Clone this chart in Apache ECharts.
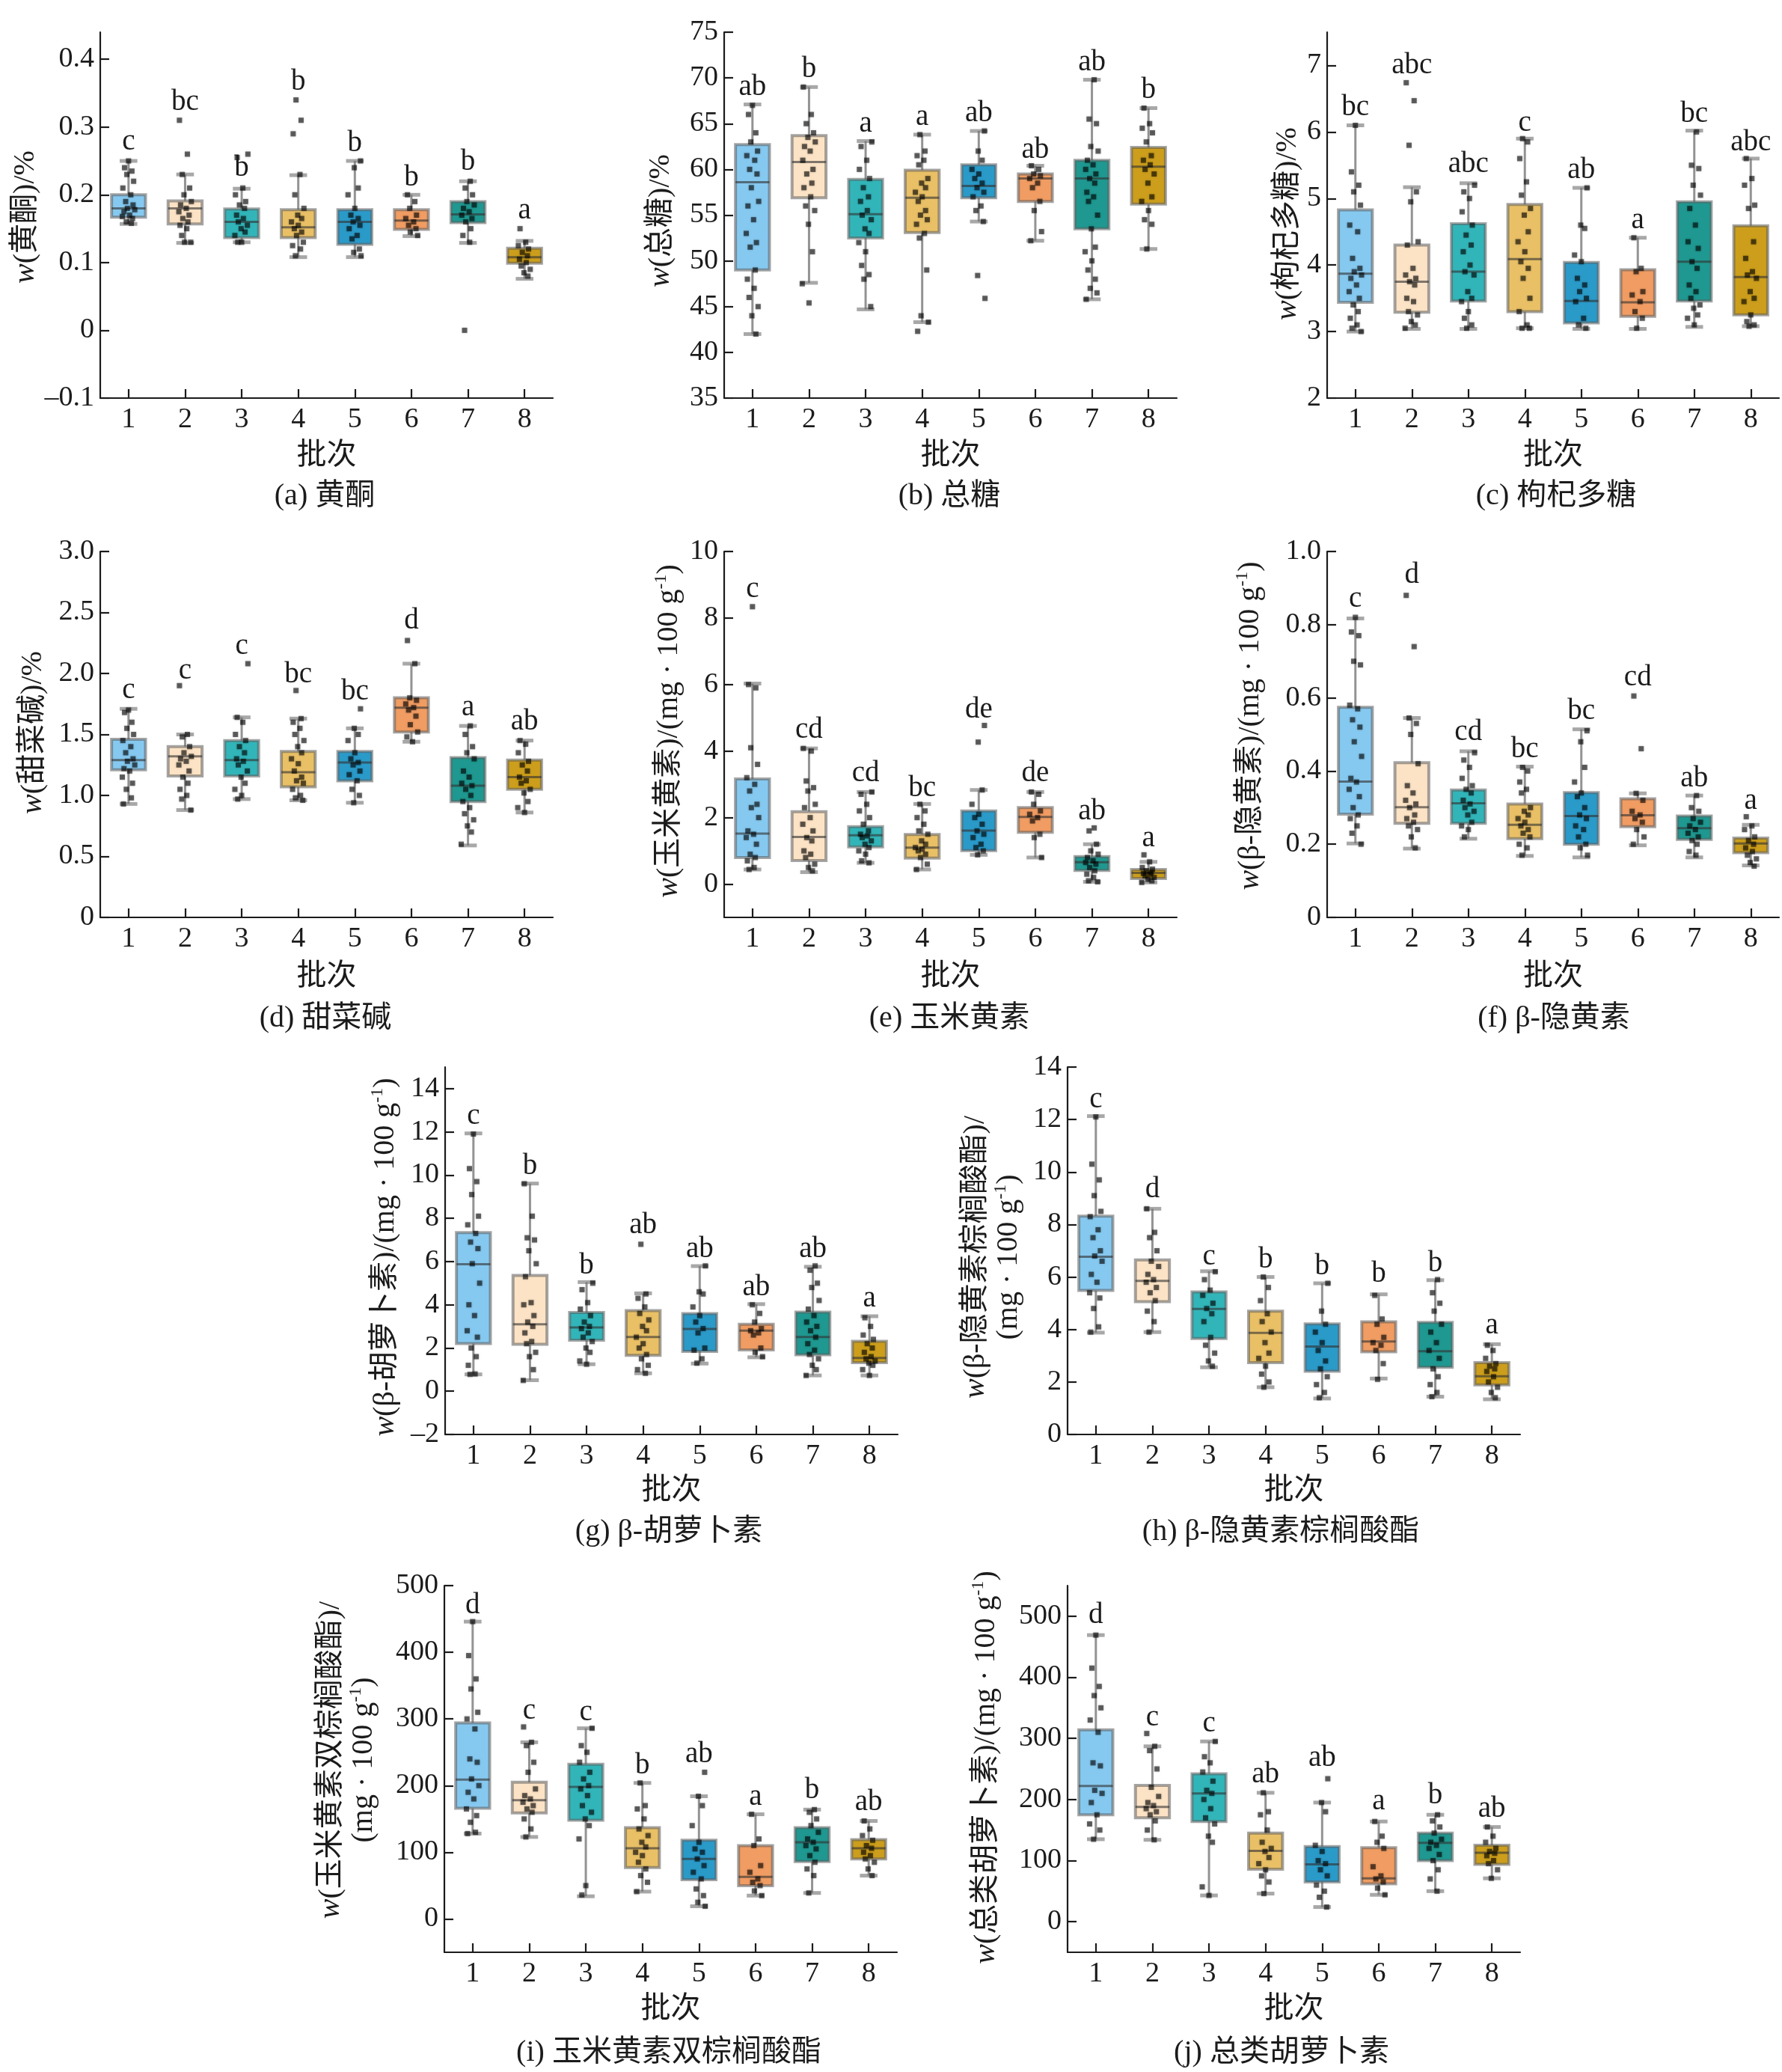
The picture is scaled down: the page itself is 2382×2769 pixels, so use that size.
<!DOCTYPE html>
<html><head><meta charset="utf-8">
<script src="https://cdn.jsdelivr.net/npm/echarts@6/dist/echarts.min.js"></script>
<style>html,body{margin:0;padding:0;background:#fff}#c{width:2382px;height:2769px}</style>
</head><body><div id="c"></div>
<script>
// ---------------- DATA ----------------
const CATS = ['1','2','3','4','5','6','7','8'];
const XNAME = '批次';

// (a) 黄酮
const A_TICKS = [-0.1, 0, 0.1, 0.2, 0.3, 0.4];
const A_BOX = [[0.157,0.167,0.18,0.2,0.25],[0.129,0.157,0.18,0.191,0.23],[0.13,0.137,0.16,0.179,0.209],[0.108,0.137,0.152,0.178,0.229],[0.108,0.127,0.16,0.178,0.25],[0.139,0.149,0.162,0.178,0.2],[0.129,0.159,0.171,0.19,0.22],[0.076,0.099,0.108,0.121,0.132]];
const A_PTS = [
 [0.25,0.24,0.235,0.23,0.22,0.21,0.2,0.19,0.185,0.18,0.178,0.175,0.17,0.168,0.165,0.16,0.158],
 [0.31,0.26,0.23,0.21,0.2,0.19,0.185,0.18,0.175,0.17,0.165,0.16,0.155,0.15,0.14,0.13,0.13],
 [0.26,0.255,0.21,0.2,0.19,0.185,0.18,0.17,0.165,0.16,0.155,0.15,0.145,0.14,0.13,0.13],
 [0.34,0.31,0.29,0.23,0.2,0.18,0.17,0.165,0.16,0.155,0.15,0.145,0.14,0.13,0.125,0.12,0.11],
 [0.25,0.24,0.21,0.2,0.18,0.17,0.165,0.16,0.155,0.15,0.14,0.135,0.12,0.115,0.11],
 [0.2,0.19,0.18,0.17,0.165,0.16,0.155,0.15,0.145,0.14],
 [0.22,0.21,0.2,0.19,0.185,0.18,0.175,0.17,0.165,0.16,0.15,0.14,0.13,0],
 [0.15,0.13,0.125,0.12,0.115,0.11,0.105,0.1,0.095,0.09,0.085,0.08]];
const A_LET = ['c','bc','b','b','b','b','b','a'];
const A_LETY = [0.278,0.336,0.239,0.366,0.276,0.225,0.248,0.176];

// (b) 总糖
const B_TICKS = [35,40,45,50,55,60,65,70,75];
const B_BOX = [[42,49,58.6,62.7,67.1],[47.6,56.9,60.8,63.7,69],[44.7,52.5,55.1,58.9,63.1],[43.3,53.1,56.9,59.9,63.8],[54.3,56.9,58.2,60.5,64.2],[52.2,56.5,59,59.5,60.4],[45.8,53.5,59,61,69.8],[51.3,56.2,60.3,62.4,66.7]];
const B_PTS = [
 [67,66,64,63,62,61.5,61,60,59.5,58,56.5,56,54.5,53,52,51.5,49,48,47,46,45,44,42],
 [69,66,65,64,63.5,63,62.5,62,61,60,59.5,58.5,58,57,56,55.5,54,51,47.5,45.4],
 [63,62.5,61,60,59,58,57,56.5,55.5,55,54.5,53.5,53,52,51,49.5,48.5,48,45],
 [63.8,62,61.5,61,60.5,59,58.5,58,57.5,57,56.5,55.5,55,54.5,54,53,52.5,49,44,43.3,42.3],
 [64.2,62,61,60,59.5,59,58.5,58,57.5,57,56,55.5,54.3,48.4,45.9],
 [60.4,60,59.5,59.3,59,58.5,58,56.5,55.5,53.2,52.2],
 [69.8,65.5,65,62.5,62,61,60.5,60,59.5,59,58.5,57.5,57,56.5,55,53.5,51.5,51,50,49,48,47,46.5,45.8],
 [66.7,65,64.5,64,63,61.5,61,60.5,60,59.5,58.5,57,56.5,55.5,54.5,54,51.3]];
const B_LET = ['ab','b','a','a','ab','ab','ab','b'];
const B_LETY = [69,70.9,65,65.7,66.1,62.1,71.7,68.6];

// (c) 枸杞多糖
const C_TICKS = [2,3,4,5,6,7];
const C_BOX = [[3.0,3.44,3.87,4.83,6.1],[3.04,3.29,3.75,4.3,5.17],[3.04,3.46,3.9,4.62,5.23],[3.05,3.3,4.09,4.91,5.9],[3.04,3.13,3.46,4.04,5.16],[3.04,3.23,3.44,3.93,4.41],[3.07,3.46,4.05,4.95,6.02],[3.08,3.25,3.82,4.59,5.6]];
const C_PTS = [
 [6.1,5.4,5.2,5.1,4.9,4.6,4.5,4.1,3.95,3.9,3.85,3.8,3.7,3.6,3.5,3.4,3.3,3.2,3.1,3.05,3.0],
 [6.74,6.47,5.8,5.1,4.95,4.35,4.3,3.95,3.85,3.8,3.75,3.7,3.5,3.45,3.3,3.25,3.15,3.1,3.05],
 [5.2,5.1,5.0,4.8,4.6,4.45,4.3,4.2,4.0,3.9,3.85,3.6,3.5,3.45,3.3,3.2,3.1,3.05],
 [5.9,5.85,5.6,5.25,5.05,4.85,4.75,4.5,4.35,4.2,4.05,3.95,3.8,3.5,3.3,3.1,3.05,3.05],
 [5.16,4.6,4.55,4.15,4.05,3.8,3.7,3.6,3.5,3.45,3.2,3.1,3.05],
 [4.41,3.95,3.9,3.6,3.55,3.45,3.3,3.2,3.05],
 [6.0,5.5,5.45,5.2,5.05,4.85,4.6,4.35,4.25,4.05,3.95,3.7,3.6,3.5,3.4,3.35,3.25,3.2,3.1],
 [5.6,5.3,5.2,4.9,4.85,4.35,4.1,3.9,3.85,3.8,3.6,3.5,3.45,3.25,3.15,3.1,3.08]];
const C_LET = ['bc','abc','abc','c','ab','a','bc','abc'];
const C_LETY = [6.37,7.0,5.51,6.13,5.42,4.67,6.27,5.84];

// (d) 甜菜碱
const D_TICKS = [0,0.5,1.0,1.5,2.0,2.5,3.0];
const D_BOX = [[0.93,1.21,1.29,1.46,1.71],[0.88,1.16,1.32,1.4,1.5],[0.97,1.16,1.29,1.45,1.64],[0.96,1.07,1.19,1.36,1.63],[0.94,1.12,1.27,1.36,1.55],[1.44,1.52,1.72,1.8,2.08],[0.59,0.95,1.08,1.31,1.57],[0.86,1.05,1.15,1.29,1.45]];
const D_PTS = [
 [1.7,1.68,1.6,1.55,1.5,1.45,1.4,1.35,1.3,1.28,1.25,1.22,1.2,1.15,1.1,1.05,0.98,0.93],
 [1.9,1.5,1.48,1.4,1.35,1.32,1.3,1.28,1.25,1.2,1.15,1.1,1.05,1.0,0.97,0.88],
 [2.08,1.64,1.6,1.5,1.45,1.4,1.35,1.3,1.28,1.25,1.2,1.15,1.1,1.05,1.0,0.97],
 [1.86,1.63,1.6,1.55,1.5,1.45,1.4,1.35,1.3,1.26,1.2,1.15,1.12,1.1,1.05,1.0,0.98,0.96],
 [1.71,1.55,1.5,1.45,1.35,1.3,1.27,1.25,1.2,1.17,1.12,1.05,1.0,0.94],
 [2.27,2.08,1.8,1.78,1.75,1.72,1.7,1.65,1.58,1.52,1.48,1.44],
 [1.57,1.5,1.4,1.35,1.3,1.2,1.15,1.1,1.08,1.05,1.0,0.95,0.9,0.85,0.8,0.75,0.7,0.6],
 [1.45,1.42,1.35,1.28,1.25,1.2,1.15,1.12,1.1,1.05,1.02,0.95,0.9,0.86]];
const D_LET = ['c','c','c','bc','bc','d','a','ab'];
const D_LETY = [1.86,2.02,2.22,1.99,1.85,2.43,1.72,1.6];

// (e) 玉米黄素
const E_TICKS = [0,2,4,6,8,10];
const E_BOX = [[0.44,0.8,1.52,3.16,6.03],[0.36,0.71,1.42,2.18,4.08],[0.64,1.12,1.47,1.73,2.77],[0.44,0.78,1.1,1.49,2.41],[0.88,1.01,1.61,2.2,2.83],[0.8,1.56,2.02,2.3,2.77],[0.07,0.41,0.66,0.83,1.2],[0.05,0.17,0.34,0.44,0.67]];
const E_PTS = [
 [8.34,6.0,5.9,4.1,3.6,3.2,3.0,2.8,2.4,2.3,2.0,1.6,1.5,1.4,1.2,0.9,0.8,0.7,0.5,0.44],
 [4.08,4.0,3.1,2.9,2.8,2.4,2.3,2.0,1.8,1.6,1.4,1.3,1.0,0.9,0.8,0.6,0.5,0.4],
 [2.77,2.7,2.4,2.2,2.0,1.8,1.6,1.5,1.45,1.4,1.3,1.2,1.1,1.0,0.9,0.7,0.64],
 [2.4,2.2,2.0,1.8,1.6,1.5,1.3,1.2,1.1,1.05,1.0,0.9,0.8,0.6,0.44],
 [4.77,4.27,2.83,2.4,2.1,2.0,1.8,1.6,1.5,1.4,1.2,1.1,1.0,0.88],
 [2.77,2.7,2.4,2.2,2.1,2.0,1.9,1.5,1.4,0.8],
 [1.69,1.6,1.2,1.0,0.9,0.8,0.7,0.65,0.6,0.5,0.4,0.3,0.2,0.1,0.07],
 [0.88,0.67,0.5,0.45,0.4,0.35,0.32,0.3,0.25,0.2,0.15,0.1,0.05]];
const E_LET = ['c','cd','cd','bc','de','de','ab','a'];
const E_LETY = [8.85,4.64,3.32,2.88,5.23,3.32,2.18,1.37];

// (f) β-隐黄素
const F_TICKS = [0,0.2,0.4,0.6,0.8,1.0];
const F_BOX = [[0.202,0.282,0.371,0.574,0.817],[0.188,0.257,0.301,0.423,0.545],[0.215,0.257,0.312,0.348,0.454],[0.168,0.215,0.253,0.31,0.412],[0.164,0.2,0.277,0.341,0.514],[0.197,0.248,0.279,0.324,0.339],[0.164,0.213,0.244,0.277,0.333],[0.142,0.177,0.202,0.217,0.253]];
const F_PTS = [
 [0.82,0.78,0.77,0.7,0.69,0.58,0.57,0.54,0.52,0.48,0.44,0.38,0.37,0.35,0.33,0.3,0.28,0.27,0.25,0.23,0.2],
 [0.88,0.74,0.545,0.53,0.5,0.42,0.36,0.34,0.32,0.31,0.3,0.28,0.27,0.26,0.25,0.24,0.22,0.19],
 [0.45,0.43,0.41,0.38,0.36,0.35,0.34,0.32,0.31,0.3,0.29,0.28,0.26,0.25,0.24,0.22],
 [0.41,0.4,0.37,0.35,0.34,0.3,0.29,0.28,0.27,0.26,0.25,0.24,0.23,0.22,0.2,0.19,0.17],
 [0.51,0.48,0.41,0.37,0.34,0.33,0.3,0.28,0.27,0.25,0.24,0.22,0.2,0.19,0.17],
 [0.605,0.461,0.339,0.32,0.29,0.28,0.27,0.26,0.24,0.22,0.2],
 [0.333,0.3,0.29,0.27,0.26,0.25,0.24,0.23,0.22,0.21,0.2,0.18,0.17],
 [0.275,0.25,0.24,0.22,0.21,0.2,0.19,0.18,0.17,0.16,0.15,0.14]];
const F_LET = ['c','d','cd','bc','bc','cd','ab','a'];
const F_LETY = [0.869,0.935,0.505,0.458,0.563,0.654,0.379,0.317];

// (g) β-胡萝卜素
const G_TICKS = [-2,0,2,4,6,8,10,12,14];
const G_BOX = [[0.78,2.21,5.88,7.34,11.93],[0.51,2.17,3.1,5.36,9.61],[1.25,2.36,2.95,3.64,5.05],[0.83,1.66,2.51,3.73,4.53],[1.28,1.84,2.88,3.59,5.79],[1.57,1.91,2.8,3.1,4.03],[0.73,1.69,2.51,3.66,5.76],[0.73,1.32,1.54,2.31,3.47]];
const G_PTS = [
 [11.9,10.3,9.7,9.1,8.1,7.7,7.3,6.9,6.6,5.9,5.0,4.0,3.5,2.8,2.5,2.0,1.6,1.2,0.8,0.78],
 [9.6,8.1,7.1,7.0,6.5,5.9,5.3,4.1,4.0,3.5,3.2,3.0,2.7,2.3,2.2,1.8,1.6,1.0,0.5],
 [5.0,4.7,4.1,3.8,3.5,3.2,3.0,2.9,2.7,2.5,2.3,2.0,1.8,1.4,1.25],
 [6.8,4.5,4.3,3.9,3.6,3.3,3.0,2.8,2.5,2.2,2.0,1.7,1.5,1.2,1.0,0.83],
 [5.8,4.6,4.5,3.9,3.5,3.2,2.9,2.7,2.0,1.9,1.5,1.3],
 [4.0,3.6,3.2,2.9,2.8,2.7,2.6,2.0,1.8,1.6],
 [5.8,5.6,5.0,4.8,4.2,3.8,3.5,3.2,3.0,2.8,2.5,2.2,1.9,1.7,1.5,1.2,1.0,0.73],
 [3.4,3.0,2.6,2.4,2.2,2.0,1.8,1.6,1.5,1.4,1.3,1.2,1.0,0.73]];
const G_LET = ['c','b','b','ab','ab','ab','ab','a'];
const G_LETY = [12.71,10.42,5.79,7.68,6.57,4.8,6.57,4.28];

// (h) β-隐黄素棕榈酸酯
const H_TICKS = [0,2,4,6,8,10,12,14];
const H_BOX = [[3.88,5.49,6.77,8.32,12.13],[3.9,5.06,5.85,6.65,8.6],[2.56,3.66,4.78,5.43,6.22],[1.8,2.74,3.87,4.7,6.0],[1.37,2.41,3.35,4.21,5.76],[2.13,3.15,3.54,4.29,5.34],[1.44,2.56,3.17,4.27,5.88],[1.34,1.89,2.22,2.74,3.44]];
const H_PTS = [
 [12.1,10.3,9.7,9.1,8.5,8.3,7.8,7.5,7.0,6.8,6.6,6.1,5.8,5.4,5.2,4.8,4.1,3.9],
 [8.6,7.7,7.5,7.0,6.6,6.4,6.1,5.9,5.8,5.6,5.4,5.1,4.7,4.3,3.9],
 [6.2,5.9,5.5,5.3,5.0,4.8,4.6,4.3,3.7,3.4,3.1,2.8,2.6],
 [6.0,5.6,5.1,4.6,4.3,3.9,3.5,3.1,2.9,2.6,2.3,2.0,1.8],
 [5.76,4.7,4.2,3.9,3.5,3.2,2.8,2.5,2.2,1.9,1.6,1.4],
 [5.3,4.4,4.2,3.7,3.5,3.4,3.2,2.7,2.1],
 [5.9,5.4,5.0,4.7,4.2,3.9,3.5,3.2,2.9,2.5,2.2,1.9,1.6,1.44],
 [3.4,3.2,2.9,2.7,2.6,2.5,2.4,2.2,2.0,1.8,1.6,1.4]];
const H_LET = ['c','d','c','b','b','b','b','a'];
const H_LETY = [12.74,9.33,6.77,6.65,6.4,6.1,6.52,4.15];

// (i) 玉米黄素双棕榈酸酯
const I_TICKS = [0,100,200,300,400,500];
const I_BOX = [[128,166,209,294,446],[123,159,178,205,265],[34,148,198,232,286],[41,77,106,137,204],[19,59,90,118,184],[35,50,63,110,157],[39,86,115,137,164],[65,90,106,119,147]];
const I_PTS = [
 [446,395,360,345,310,300,285,240,235,210,200,190,180,165,155,145,130,128],
 [288,265,260,235,220,195,185,180,175,170,165,160,150,135,123],
 [286,260,250,235,220,210,200,195,185,170,160,150,140,120,50,36],
 [204,170,165,150,135,125,115,108,100,95,85,75,65,55,41],
 [220,184,170,140,115,105,100,90,80,70,60,45,35,25,19],
 [157,120,110,80,70,60,55,50,42,35],
 [164,160,150,140,130,120,115,110,105,95,85,75,65,39],
 [147,135,125,118,110,106,100,95,90,85,75,65]];
const I_LET = ['d','c','c','b','ab','a','b','ab'];
const I_LETY = [470,312,309,230,247,183,193,175];

// (j) 总类胡萝卜素
const J_TICKS = [0,100,200,300,400,500];
const J_BOX = [[135,175,222,314,469],[134,170,188,223,287],[43,164,210,242,295],[46,86,116,145,211],[24,65,94,123,195],[44,62,71,121,164],[50,100,129,145,175],[71,94,113,125,155]];
const J_PTS = [
 [469,415,385,370,350,330,310,260,255,215,210,195,175,160,150,135],
 [308,287,280,250,220,205,195,190,185,180,175,165,150,134],
 [295,270,260,245,230,215,210,200,185,170,160,140,130,57,43],
 [211,180,175,150,130,120,115,105,95,85,75,65,46],
 [234,195,180,125,115,100,95,85,75,60,50,40,24],
 [164,140,130,120,90,75,70,65,55,44],
 [175,165,155,145,135,130,125,120,110,100,85,70,50],
 [155,140,130,120,115,112,108,100,95,85,71]];
const J_LET = ['d','c','c','ab','ab','a','b','ab'];
const J_LETY = [501,333,324,241,267,197,206,184];

// Axis titles and captions (text)
const YTITLES = [
 '{i|w}(黄酮)/%', '{i|w}(总糖)/%', '{i|w}(枸杞多糖)/%', '{i|w}(甜菜碱)/%',
 '{i|w}(玉米黄素)/(mg · 100 g{s|-1})', '{i|w}(β-隐黄素)/(mg · 100 g{s|-1})',
 '{i|w}(β-胡萝卜素)/(mg · 100 g{s|-1})', '{i|w}(β-隐黄素棕榈酸酯)/\n(mg · 100 g{s|-1})',
 '{i|w}(玉米黄素双棕榈酸酯)/\n(mg · 100 g{s|-1})', '{i|w}(总类胡萝卜素)/(mg · 100 g{s|-1})'];
const CAPTIONS = ['(a) 黄酮','(b) 总糖','(c) 枸杞多糖','(d) 甜菜碱','(e) 玉米黄素','(f) β-隐黄素','(g) β-胡萝卜素','(h) β-隐黄素棕榈酸酯','(i) 玉米黄素双棕榈酸酯','(j) 总类胡萝卜素'];

// ---------------- STYLE / LAYOUT ----------------
const COLORS = ['#80C6EF','#FCE2C2','#27B1B5','#E8BD5E','#1F95C6','#EF975A','#12928A','#C9990F'];
const JITTER = [0.00,-0.07,0.06,-0.03,0.09,-0.10,0.04,-0.05,0.08,-0.02,0.11,-0.08,0.02,-0.11,0.07,-0.04,0.05,-0.09,0.03,-0.06,0.10,-0.01,0.06,-0.12];
const FONT = "'Liberation Serif','Times New Roman','Noto Sans CJK SC',serif";
const INK = '#1b1b1b';

const fmtPlain = v => (v < 0 ? '\u2013' + Math.abs(v) : String(v));
const fmt1 = v => (v === 0 ? '0' : v.toFixed(1));

const PANELS = [
 {box:A_BOX,pts:A_PTS,let:A_LET,letY:A_LETY,ticks:A_TICKS,fmt:fmtPlain,g:[134,43,605,489],y:[-0.1,0.44],yt:[34,290],cap:[434,663],xn:609},
 {box:B_BOX,pts:B_PTS,let:B_LET,letY:B_LETY,ticks:B_TICKS,fmt:fmtPlain,g:[968,43,605,489],y:[35,75],yt:[883,295],cap:[1269,663],xn:609},
 {box:C_BOX,pts:C_PTS,let:C_LET,letY:C_LETY,ticks:C_TICKS,fmt:fmtPlain,g:[1774,43,604,489],y:[2,7.5],yt:[1721,299],cap:[2080,663],xn:609},
 {box:D_BOX,pts:D_PTS,let:D_LET,letY:D_LETY,ticks:D_TICKS,fmt:fmt1,g:[134,737,605,489],y:[0,3],yt:[44,979],cap:[435,1361],xn:1305},
 {box:E_BOX,pts:E_PTS,let:E_LET,letY:E_LETY,ticks:E_TICKS,fmt:fmtPlain,g:[968,737,605,489],y:[-1,10],yt:[894,977],cap:[1269,1361],xn:1305},
 {box:F_BOX,pts:F_PTS,let:F_LET,letY:F_LETY,ticks:F_TICKS,fmt:fmt1,g:[1774,737,604,489],y:[0,1],yt:[1671,970],cap:[2077,1361],xn:1305},
 {box:G_BOX,pts:G_PTS,let:G_LET,letY:G_LETY,ticks:G_TICKS,fmt:fmtPlain,g:[595,1426,605,491],y:[-2,15],yt:[515,1680],cap:[894,2047],xn:1992},
 {box:H_BOX,pts:H_PTS,let:H_LET,letY:H_LETY,ticks:H_TICKS,fmt:fmtPlain,g:[1427,1426,605,491],y:[0,14],yt:[1326,1680],cap:[1712,2047],xn:1992},
 {box:I_BOX,pts:I_PTS,let:I_LET,letY:I_LETY,ticks:I_TICKS,fmt:fmtPlain,g:[594,2119,605,490],y:[-50,500],yt:[464,2352],cap:[894,2743],xn:2685},
 {box:J_BOX,pts:J_PTS,let:J_LET,letY:J_LETY,ticks:J_TICKS,fmt:fmtPlain,g:[1427,2119,605,490],y:[-50,550],yt:[1318,2362],cap:[1713,2743],xn:2685}
];

// ---------------- BUILD ----------------
const axisLineStyle = {color: INK, width: 2.2};
const grids = [], xAxes = [], yAxes = [], series = [], graphics = [];
const XPOS = CATS.map((c, i) => i + 1);

function renderBox(params, api) {
  const x = api.value(0);
  const lo = api.coord([x, api.value(1)]);
  const q1 = api.coord([x, api.value(2)]);
  const md = api.coord([x, api.value(3)]);
  const q3 = api.coord([x, api.value(4)]);
  const hi = api.coord([x, api.value(5)]);
  const bw = api.size([1, 0])[0] * 0.6;
  const cw = bw * 0.52;
  const cx = lo[0];
  const col = COLORS[params.dataIndex % COLORS.length];
  const ws = {stroke: 'rgba(105,105,105,0.72)', lineWidth: 3};
  const cs = {stroke: 'rgba(115,115,115,0.62)', lineWidth: 5};
  return {type: 'group', children: [
    {type: 'line', shape: {x1: cx, y1: q1[1], x2: cx, y2: lo[1]}, style: ws},
    {type: 'line', shape: {x1: cx, y1: q3[1], x2: cx, y2: hi[1]}, style: ws},
    {type: 'line', shape: {x1: cx - cw / 2, y1: lo[1], x2: cx + cw / 2, y2: lo[1]}, style: cs},
    {type: 'line', shape: {x1: cx - cw / 2, y1: hi[1], x2: cx + cw / 2, y2: hi[1]}, style: cs},
    {type: 'rect', shape: {x: cx - bw / 2, y: q3[1], width: bw, height: q1[1] - q3[1]},
     style: {fill: col, stroke: 'rgba(95,95,95,0.6)', lineWidth: 4, opacity: 0.95}},
    {type: 'line', shape: {x1: cx - bw / 2, y1: md[1], x2: cx + bw / 2, y2: md[1]},
     style: {stroke: 'rgba(50,50,50,0.62)', lineWidth: 3}}
  ]};
}

PANELS.forEach((p, gi) => {
  grids.push({left: p.g[0], top: p.g[1], width: p.g[2], height: p.g[3], containLabel: false});
  xAxes.push({
    gridIndex: gi, type: 'value', min: 0.5, max: 8.5,
    axisLine: {show: true, onZero: false, lineStyle: axisLineStyle},
    axisTick: {show: true, inside: true, length: 12, lineStyle: axisLineStyle, customValues: XPOS},
    axisLabel: {show: true, customValues: XPOS, formatter: v => CATS[Math.round(v) - 1],
      margin: 10, fontSize: 38, fontFamily: FONT, color: INK},
    splitLine: {show: false}
  });
  yAxes.push({
    gridIndex: gi, type: 'value', min: p.y[0], max: p.y[1],
    axisLine: {show: true, onZero: false, lineStyle: axisLineStyle},
    axisTick: {show: true, inside: true, length: 12, lineStyle: axisLineStyle, customValues: p.ticks},
    axisLabel: {show: true, customValues: p.ticks, formatter: p.fmt, margin: 8,
      fontSize: 38, fontFamily: FONT, color: INK},
    splitLine: {show: false}
  });
  series.push({
    type: 'custom', xAxisIndex: gi, yAxisIndex: gi, renderItem: renderBox, z: 2,
    encode: {x: 0, y: [1, 2, 3, 4, 5]},
    data: p.box.map((b, i) => [i + 1].concat(b))
  });
  const sd = [];
  p.pts.forEach((arr, i) => arr.forEach((v, k) => {
    sd.push([i + 1 + JITTER[(k + i * 5) % JITTER.length], v]);
  }));
  series.push({
    type: 'scatter', xAxisIndex: gi, yAxisIndex: gi, z: 4, symbol: 'rect', symbolSize: 7,
    itemStyle: {color: 'rgba(0,0,0,0.72)', shadowBlur: 3, shadowColor: 'rgba(0,0,0,0.35)'},
    data: sd, silent: true
  });
  series.push({
    type: 'custom', xAxisIndex: gi, yAxisIndex: gi, z: 5,
    encode: {x: 0, y: 1},
    data: p.letY.map((y, i) => [i + 1, y]),
    renderItem: (params, api) => {
      const pt = api.coord([api.value(0), api.value(1)]);
      return {type: 'text', x: pt[0], y: pt[1], style: {
        text: p.let[params.dataIndex], fontSize: 39, fontFamily: FONT, fill: INK,
        align: 'center', verticalAlign: 'middle'}};
    }
  });
  graphics.push({
    type: 'text', x: p.yt[0], y: p.yt[1], rotation: Math.PI / 2, silent: true,
    style: {text: YTITLES[gi], fontSize: 40, fontFamily: FONT, fill: INK,
      align: 'center', verticalAlign: 'middle', lineHeight: 44,
      rich: {i: {fontStyle: 'italic', fontSize: 40, fontFamily: FONT, fill: INK},
             s: {fontSize: 24, fontFamily: FONT, fill: INK, verticalAlign: 'top'}}}
  });
  graphics.push({
    type: 'text', x: p.g[0] + p.g[2] / 2, y: p.xn, silent: true,
    style: {text: XNAME, fontSize: 40, fontFamily: FONT, fill: INK, align: 'center', verticalAlign: 'middle'}
  });
  graphics.push({
    type: 'text', x: p.cap[0], y: p.cap[1], silent: true,
    style: {text: CAPTIONS[gi], fontSize: 40, fontFamily: FONT, fill: INK, align: 'center', verticalAlign: 'middle'}
  });
});

const chart = echarts.init(document.getElementById('c'), null, {renderer: 'canvas'});
chart.setOption({
  backgroundColor: '#ffffff',
  animation: false,
  grid: grids, xAxis: xAxes, yAxis: yAxes, series: series,
  graphic: {elements: graphics}
});
</script>
</body></html>
